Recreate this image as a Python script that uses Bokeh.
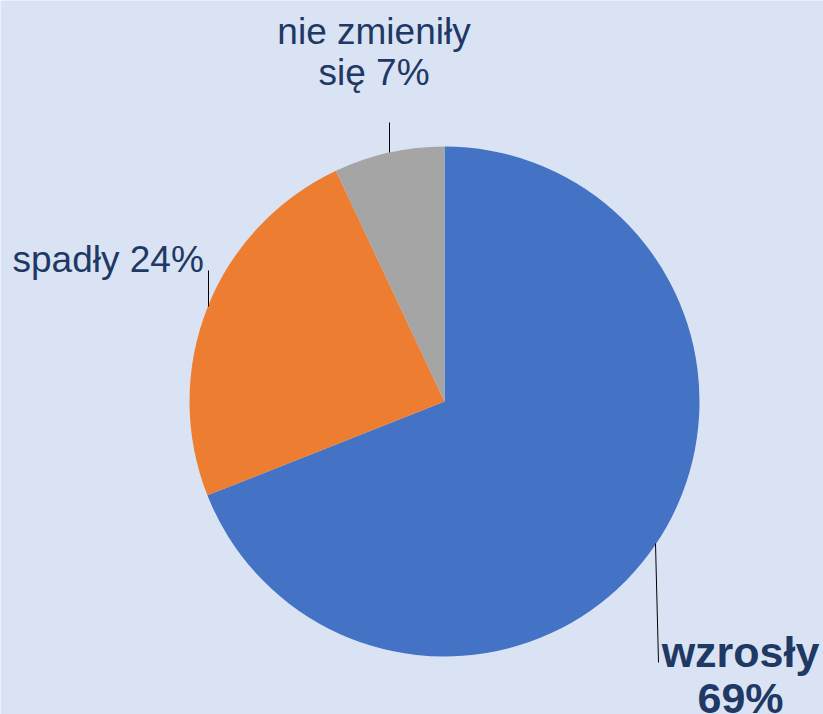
from bokeh.plotting import figure
from bokeh.models import Range1d, ColumnDataSource
from bokeh.core.properties import value
from bokeh.embed import file_html
from bokeh.resources import INLINE
import math

# data
categories = ["wzrosły", "spadły", "nie zmieniły się"]
shares = [69, 24, 7]
colors = ["#4472C4", "#ED7D31", "#A5A5A5"]

BG = "#DAE3F3"
TXT = "#203864"

# pixel-like coordinate system: x = image X, y = 714 - image Y
p = figure(width=823, height=714, output_backend="svg", toolbar_location=None,
           x_range=Range1d(0, 823), y_range=Range1d(0, 714),
           min_border=0, background_fill_color=BG, border_fill_color=BG,
           outline_line_color=None)
p.axis.visible = False
p.grid.visible = False

cx, cy, r = 444, 313, 255
total = sum(shares)
starts, ends = [], []
ang = math.pi / 2
for s in shares:
    sweep = 2 * math.pi * s / total
    ends.append(ang)
    starts.append(ang - sweep)
    ang -= sweep

src = ColumnDataSource(dict(start=starts, end=ends, color=colors, cat=categories))
p.wedge(x=cx, y=cy, radius=r, start_angle="start", end_angle="end",
        fill_color="color", line_color=None, source=src)

# leader lines
p.line([389, 389], [714 - 122, 714 - 152], line_color="black", line_width=1)
p.line([208, 208], [714 - 270, 714 - 306], line_color="black", line_width=1)
p.line([655, 658], [714 - 543, 714 - 662], line_color="black", line_width=1)

font = value("Liberation Sans")
dy = 11
p.text(x=[373.5, 373.5], y=[714 - 42 + dy, 714 - 83 + dy],
       text=["nie zmieniły", f"się {shares[2]}%"],
       text_font=font, text_font_size="37px", text_color=TXT,
       text_align="center", text_baseline="alphabetic")
p.text(x=[12], y=[714 - 270 + dy], text=[f"spadły {shares[1]}%"],
       text_font=font, text_font_size="37px", text_color=TXT,
       text_align="left", text_baseline="alphabetic")
p.text(x=[740, 740], y=[714 - 662 + dy, 714 - 708 + dy],
       text=["wzrosły", f"{shares[0]}%"],
       text_font=font, text_font_size="43px", text_font_style="bold",
       text_color=TXT, text_align="center", text_baseline="alphabetic")

open("out.html", "w").write(file_html(p, INLINE))
